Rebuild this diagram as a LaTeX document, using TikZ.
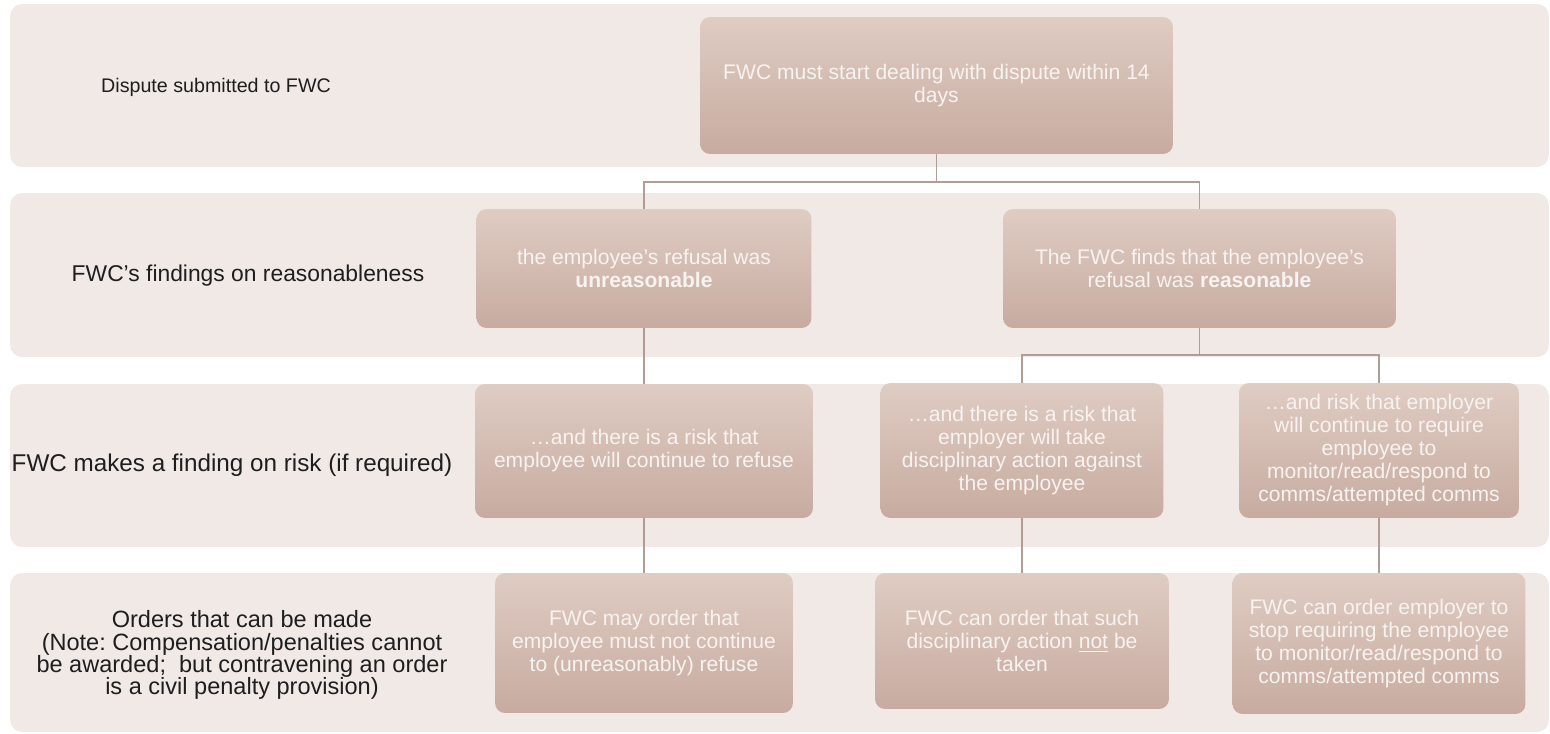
\documentclass[tikz,border=0pt]{standalone}
\usepackage{fontspec}
\setmainfont{Liberation Sans}
\usetikzlibrary{positioning}
\frenchspacing
\definecolor{bandfill}{HTML}{F1E9E6}
\definecolor{boxtop}{HTML}{DFCCC3}
\definecolor{boxbottom}{HTML}{C7ABA0}
\definecolor{linkcol}{HTML}{B39C93}
\definecolor{boxtext}{HTML}{F8F2F0}
\definecolor{labeltext}{HTML}{1E1E1E}

\begin{document}
\begin{tikzpicture}
    [
        x=0.02cm, y=-0.02cm,
        band_node/.style={rounded corners=0.24cm, fill=bandfill, inner sep=0pt, minimum width=30.78cm},
        level_label/.style={align=center, text=labeltext, inner sep=0pt},
        tree_node/.style={rounded corners=0.2cm, top color=boxtop, bottom color=boxbottom, inner sep=2pt, align=center, text=boxtext, font=\fontsize{12}{13.1}\selectfont},
        link_line/.style={draw=linkcol, line width=0.6pt},
    ]
        \useasboundingbox (0,0) rectangle (1550,733);
        % background bands
        \node[band_node, minimum height=3.26cm] (band1) at (779.5,85.5) {};
        \node[band_node, minimum height=3.28cm] (band2) at (779.5,275) {};
        \node[band_node, minimum height=3.26cm] (band3) at (779.5,465.5) {};
        \node[band_node, minimum height=3.18cm] (band4) at (779.5,652.5) {};
        % level labels
        \node[level_label, font=\fontsize{11.2}{13}\selectfont] (lab1) at (216,87) {Dispute submitted to FWC};
        \node[level_label, font=\fontsize{13}{13}\selectfont] (lab2) at (248,276) {FWC’s findings on reasonableness};
        \node[level_label, font=\fontsize{13.8}{13}\selectfont] (lab3) at (232,465) {FWC makes a finding on risk (if required)};
        \node[level_label, font=\fontsize{13.4}{12.6}\selectfont] (lab4) at (242,655) {Orders that can be made\\(Note: Compensation/penalties cannot\\be awarded;~ but contravening an order\\is a civil penalty provision)};
        % tree boxes
        \node[tree_node, minimum width=9.46cm, minimum height=2.74cm] (dispute) at (936.5,85.5) {FWC must start dealing with dispute within 14\\days};
        \node[tree_node, minimum width=6.7cm, minimum height=2.38cm] (unreas) at (644,268.5) {the employee’s refusal was\\\textbf{unreasonable}};
        \node[tree_node, minimum width=7.86cm, minimum height=2.38cm] (reas) at (1199.5,268.5) {The FWC finds that the employee’s\\refusal was \textbf{reasonable}};
        \node[tree_node, minimum width=6.76cm, minimum height=2.68cm] (riskref) at (644,451) {…and there is a risk that\\employee will continue to refuse};
        \node[tree_node, minimum width=5.66cm, minimum height=2.7cm] (riskdisc) at (1022,450.5) {…and there is a risk that\\employer will take\\disciplinary action against\\the employee};
        \node[tree_node, minimum width=5.6cm, minimum height=2.7cm] (riskreq) at (1379,450.5) {…and risk that employer\\will continue to require\\employee to\\monitor/read/respond to\\comms/attempted comms};
        \node[tree_node, minimum width=5.96cm, minimum height=2.8cm] (ordref) at (644,643) {FWC may order that\\employee must not continue\\to (unreasonably) refuse};
        \node[tree_node, minimum width=5.88cm, minimum height=2.72cm] (orddisc) at (1022,641) {FWC can order that such\\disciplinary action \underline{not} be\\taken};
        \node[tree_node, minimum width=5.86cm, minimum height=2.82cm] (ordreq) at (1379,643.5) {FWC can order employer to\\stop requiring the employee\\to monitor/read/respond to\\comms/attempted comms};
        % connectors
        \coordinate (split1) at (936.5,182);
        \coordinate (split2) at (1199.5,355);
        \draw[link_line] (dispute.south) -- (split1) -| (unreas.north);
        \draw[link_line] (split1) -| (reas.north);
        \draw[link_line] (unreas.south) -- (riskref.north);
        \draw[link_line] (reas.south) -- (split2) -| (riskdisc.north);
        \draw[link_line] (split2) -| (riskreq.north);
        \draw[link_line] (riskref.south) -- (ordref.north);
        \draw[link_line] (riskdisc.south) -- (orddisc.north);
        \draw[link_line] (riskreq.south) -- (ordreq.north);
    \end{tikzpicture}
\end{document}
